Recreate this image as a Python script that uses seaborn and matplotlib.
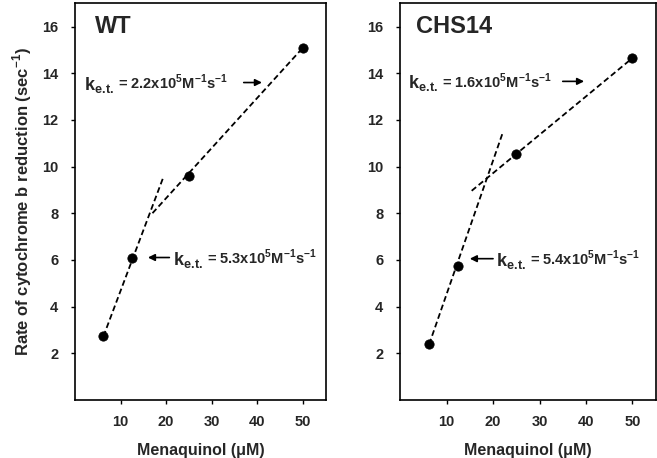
import numpy as np
import pandas as pd
import matplotlib
matplotlib.use("Agg")
import matplotlib.pyplot as plt
import seaborn as sns

# menaquinol concentration (uM) and measured rates (sec^-1)
conc = [6.25, 12.5, 25, 50]
wt_rate = [2.72, 6.1, 9.6, 15.1]
chs_rate = [2.38, 5.74, 10.55, 14.65]

# dashed fit lines: (x start, x end), (y start, y end)
wt_low_x, wt_low_y = [6.25, 19.3], [2.72, 9.5]
wt_high_x, wt_high_y = [17.0, 50], [8.0, 15.1]
chs_low_x, chs_low_y = [6.25, 22.0], [2.38, 11.4]
chs_high_x, chs_high_y = [15.4, 50], [8.96, 14.65]

panels = ["WT", "CHS14"]
k_high = ["2.2", "1.6"]
k_low = ["5.3", "5.4"]

sns.set_style("ticks")
plt.rcParams["font.family"] = ["Liberation Sans", "DejaVu Sans"]
plt.rcParams["font.weight"] = "bold"
plt.rcParams["axes.labelweight"] = "bold"
plt.rcParams["axes.linewidth"] = 1.2

fig = plt.figure(figsize=(6.57, 4.58), dpi=100)
ax1 = fig.add_axes([0.114, 0.127, 0.382, 0.866])
ax2 = fig.add_axes([0.609, 0.127, 0.389, 0.866])

setups = [
    (ax1, wt_rate, (wt_low_x, wt_low_y), (wt_high_x, wt_high_y),
     (4.3, 16.0), (2.0, 13.3), (37.0, 41.0), (21.4, 6.1), (21.0, 16.0)),
    (ax2, chs_rate, (chs_low_x, chs_low_y), (chs_high_x, chs_high_y),
     (3.4, 16.0), (1.8, 13.35), (35.0, 39.6), (20.6, 6.05), (20.3, 15.0)),
]

dash = (0, (3.2, 1.8))
# mathtext pads every '.', so pull the letters back together with \!
k_label = "k$_{\\mathregular{e.\\!t.}}$"

for i, (ax, rate, low, high, title_xy, top_xy, top_arrow, bot_xy, bot_arrow) in enumerate(setups):
    df = pd.DataFrame({"conc": conc, "rate": rate})
    for lx, ly in (low, high):
        sns.lineplot(x=lx, y=ly, ax=ax, color="black", lw=1.3,
                     linestyle=dash, estimator=None, sort=False)
    sns.scatterplot(data=df, x="conc", y="rate", ax=ax, color="black",
                    s=45, edgecolor="black", zorder=5)

    ax.set_xlim(0, 55)
    ax.set_ylim(0, 17)
    ax.set_xticks([10, 20, 30, 40, 50])
    ax.set_yticks([2, 4, 6, 8, 10, 12, 14, 16])
    ax.tick_params(axis="both", direction="out", length=3, width=1,
                   labelsize=10.5, color="black")
    ax.tick_params(axis="x", pad=8)
    ax.tick_params(axis="y", pad=9)
    for lab in ax.get_xticklabels() + ax.get_yticklabels():
        lab.set_fontweight("bold")
    for sp in ax.spines.values():
        sp.set_visible(True)
        sp.set_color("black")
    ax.set_xlabel("Menaquinol (\u03bcM)", fontsize=11.5, labelpad=10)
    if i == 0:
        ax.set_ylabel("Rate of cytochrome b reduction (sec$^{\\mathregular{-1}}$)",
                      fontsize=12, labelpad=6)
    else:
        ax.set_ylabel("")

    ax.text(title_xy[0], title_xy[1], panels[i], fontsize=17,
            fontweight="bold", ha="left", va="center")

    # upper rate constant with arrow pointing right to the shallow fit
    k1 = ax.text(top_xy[0], top_xy[1], k_label,
                 fontsize=13, fontweight="bold", ha="left", va="baseline")
    ax.annotate(" = " + k_high[i] + "x10$^{\\mathregular{5}}$M$^{\\mathregular{-1}}$s$^{\\mathregular{-1}}$",
                xy=(1, 0.28), xycoords=k1, fontsize=10.5, fontweight="bold",
                ha="left", va="baseline")
    ax.annotate("", xy=(top_arrow[1], top_xy[1] + 0.3),
                xytext=(top_arrow[0], top_xy[1] + 0.3),
                arrowprops=dict(arrowstyle="-|>", color="black", lw=1.2,
                                mutation_scale=10, shrinkA=0, shrinkB=0))

    # lower rate constant with arrow pointing left to the steep fit
    k2 = ax.text(bot_xy[0], bot_xy[1] - 0.3, k_label,
                 fontsize=13, fontweight="bold", ha="left", va="baseline")
    ax.annotate(" = " + k_low[i] + "x10$^{\\mathregular{5}}$M$^{\\mathregular{-1}}$s$^{\\mathregular{-1}}$",
                xy=(1, 0.28), xycoords=k2, fontsize=10.5, fontweight="bold",
                ha="left", va="baseline")
    ax.annotate("", xy=(bot_arrow[1], bot_xy[1]),
                xytext=(bot_arrow[0] - 0.3, bot_xy[1]),
                arrowprops=dict(arrowstyle="-|>", color="black", lw=1.2,
                                mutation_scale=10, shrinkA=0, shrinkB=0))

fig.savefig("out.png", dpi=100)
